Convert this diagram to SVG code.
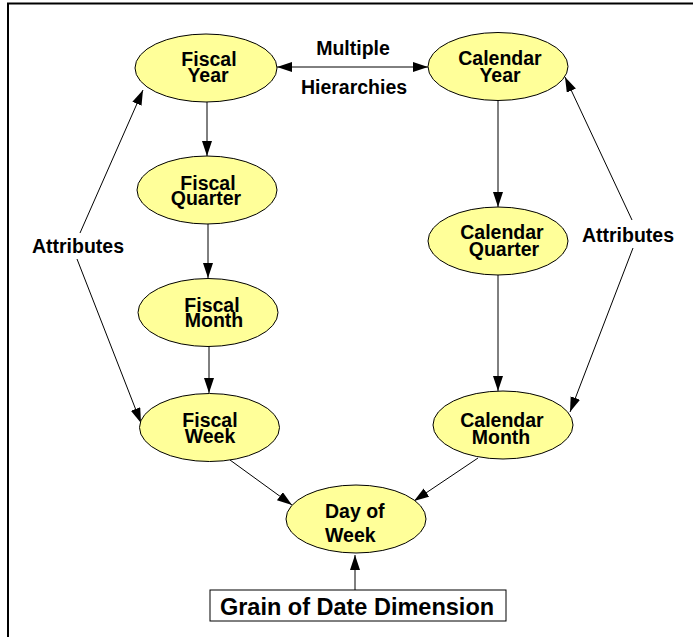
<svg xmlns="http://www.w3.org/2000/svg" width="693" height="637" viewBox="0 0 693 637">
<style>
.node ellipse{fill:#ffff99;stroke:#000;stroke-width:1}
.lbl{font-family:"Liberation Sans",Arial,sans-serif;font-weight:bold;font-size:19.5px;fill:#000;text-anchor:middle}
.edge{stroke:#000;stroke-width:1;fill:none;marker-end:url(#ah)}
.free{font-family:"Liberation Sans",Arial,sans-serif;font-weight:bold;font-size:19.5px;fill:#000;text-anchor:middle}
</style>
<defs>
<marker id="ah" markerUnits="userSpaceOnUse" markerWidth="16" markerHeight="12" refX="15" refY="5" orient="auto">
<path d="M0,0 L15,5 L0,10 Z" fill="#000"/>
</marker>
<marker id="ahs" markerUnits="userSpaceOnUse" markerWidth="16" markerHeight="12" refX="0" refY="5" orient="auto">
<path d="M15,0 L0,5 L15,10 Z" fill="#000"/>
</marker>
</defs>
<rect width="693" height="637" fill="#fff"/>
<path d="M8,637 V3.5 H693" stroke="#000" stroke-width="2" fill="none"/>
<g id="connectors">
<line class="edge" x1="207" y1="102" x2="207" y2="156"/>
<line class="edge" x1="208" y1="224" x2="208" y2="278"/>
<line class="edge" x1="209" y1="346" x2="209" y2="393"/>
<line class="edge" x1="498" y1="100" x2="498" y2="207"/>
<line class="edge" x1="498" y1="275" x2="498" y2="391"/>
<line class="edge" x1="230" y1="460" x2="292" y2="505"/>
<line class="edge" x1="478" y1="458" x2="414" y2="501"/>
<line class="edge" x1="355" y1="590" x2="355" y2="555"/>
<line x1="277" y1="67" x2="428" y2="67" stroke="#000" stroke-width="1" marker-start="url(#ahs)" marker-end="url(#ah)"/>
<line class="edge" x1="80" y1="233" x2="143" y2="90"/>
<line class="edge" x1="77" y1="259" x2="141" y2="423"/>
<line class="edge" x1="632" y1="220" x2="565" y2="77"/>
<line class="edge" x1="633" y1="248" x2="570" y2="412"/>
</g>
<g id="fiscal_year" class="node"><ellipse cx="206" cy="68" rx="71" ry="34"/><text class="lbl"><tspan x="209" y="66">Fiscal</tspan><tspan x="208" y="82">Year</tspan></text></g>
<g id="calendar_year" class="node"><ellipse cx="498" cy="66.5" rx="70" ry="34"/><text class="lbl"><tspan x="500" y="65">Calendar</tspan><tspan x="500" y="82">Year</tspan></text></g>
<g id="fiscal_quarter" class="node"><ellipse cx="207" cy="190" rx="70" ry="34"/><text class="lbl"><tspan x="208" y="190">Fiscal</tspan><tspan x="206" y="205">Quarter</tspan></text></g>
<g id="fiscal_month" class="node"><ellipse cx="208" cy="312.5" rx="70" ry="34"/><text class="lbl"><tspan x="212" y="312">Fiscal</tspan><tspan x="214" y="327">Month</tspan></text></g>
<g id="fiscal_week" class="node"><ellipse cx="209.5" cy="427.5" rx="70" ry="34"/><text class="lbl"><tspan x="210" y="427">Fiscal</tspan><tspan x="210" y="443">Week</tspan></text></g>
<g id="calendar_quarter" class="node"><ellipse cx="498" cy="241" rx="70" ry="34"/><text class="lbl"><tspan x="502" y="239">Calendar</tspan><tspan x="504" y="256">Quarter</tspan></text></g>
<g id="calendar_month" class="node"><ellipse cx="503" cy="425" rx="70" ry="34"/><text class="lbl"><tspan x="502" y="427">Calendar</tspan><tspan x="501" y="444">Month</tspan></text></g>
<g id="day_of_week" class="node"><ellipse cx="356" cy="519" rx="70" ry="34"/><text class="lbl" style="text-anchor:start"><tspan x="325" y="518">Day of</tspan><tspan x="325" y="542">Week</tspan></text></g>
<g id="grain"><rect x="210" y="590" width="296" height="31" fill="#fff" stroke="#000" stroke-width="1"/><text x="357" y="615" style="font-family:'Liberation Sans',Arial,sans-serif;font-weight:bold;font-size:23.5px;text-anchor:middle">Grain of Date Dimension</text></g>
<g id="labels">
<text class="free" x="353" y="55">Multiple</text>
<text class="free" x="354" y="94">Hierarchies</text>
<text class="free" x="78" y="253">Attributes</text>
<text class="free" x="628" y="242">Attributes</text>
</g>
</svg>
